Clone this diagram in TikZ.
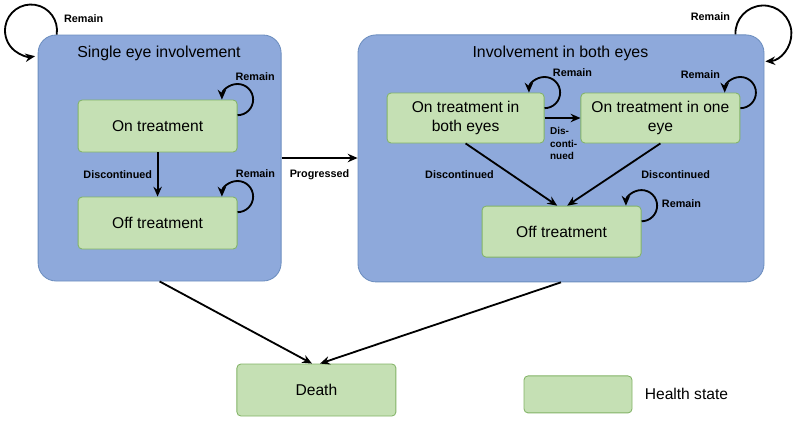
\documentclass[tikz,border=0pt]{standalone}
\usepackage{fontspec}
\setmainfont{Liberation Sans}
\usetikzlibrary{arrows.meta}
\definecolor{groupblue}{RGB}{142,169,219}
\definecolor{groupline}{RGB}{108,142,191}
\definecolor{stategreen}{RGB}{197,224,180}
\definecolor{stateline}{RGB}{130,179,102}

\begin{document}
\begin{tikzpicture}[->, >={Stealth[length=7pt,width=6pt]}, line width=1.3pt,
    group/.style = {draw=groupline, fill=groupblue, line width=0.6pt, rounded corners=0.45cm},
    state/.style = {draw=stateline, fill=stategreen, line width=0.6pt, rounded corners=0.1cm,
        minimum width=3.975cm, minimum height=1.3cm, align=center,
        font=\fontsize{11.1}{13.5}\selectfont},
    title/.style = {font=\fontsize{11.3}{13}\selectfont},
    lbl/.style = {font=\fontsize{7.7}{9}\selectfont\bfseries}]
    \useasboundingbox (0,0) rectangle (19.925,-10.525);

    % Nodes
    \node[group, minimum width=6.075cm, minimum height=6.15cm] (single) at (3.99,-3.95) {};
    \node[group, minimum width=10.15cm, minimum height=6.175cm] (bothc) at (14.025,-3.96) {};
    \node[title] (singlet) at (3.975,-1.325) {Single eye involvement};
    \node[title] (botht) at (14.01,-1.325) {Involvement in both eyes};

    \node[state] (ont) at (3.94,-3.15) {On treatment};
    \node[state] (offs) at (3.94,-5.575) {Off treatment};
    \node[state, minimum width=3.925cm, minimum height=1.25cm] (onb) at (11.64,-2.95) {On treatment in\\both eyes};
    \node[state, minimum height=1.25cm] (ono) at (16.51,-2.95) {On treatment in one\\eye};
    \node[state, minimum height=1.275cm] (offb) at (14.04,-5.79) {Off treatment};
    \node[state] (death) at (7.91,-9.75) {Death};
    \node[state, minimum width=2.7cm, minimum height=0.925cm] (legend) at (14.45,-9.86) {};
    \node[anchor=west, font=\fontsize{11.1}{13}\selectfont] (legtext) at (15.98,-9.86) {Health state};

    % Edges
    \draw (ont) -- node[lbl, midway, left] {Discontinued} (offs);
    \draw (onb) -- node[lbl, pos=0, below right, yshift=-0.1cm, align=left,
        font=\fontsize{7.1}{8.9}\selectfont\bfseries] {Dis-\\conti-\\nued} (ono);
    \draw (onb.south) -- node[lbl, midway, left=0.3cm] {Discontinued} ([xshift=-0.11cm]offb.north);
    \draw (ono.south) -- node[lbl, midway, right=0.55cm] {Discontinued} ([xshift=0.14cm]offb.north);
    \draw (single.east) -- node[lbl, midway, below=0.15cm] {Progressed} (single.east -| bothc.west);
    \draw (single.south) -- ([xshift=-0.11cm]death.north);
    \draw (bothc.south) -- ([xshift=0.09cm]death.north);

    % Remain loops
    \draw ([yshift=-0.39cm]ont.north east) arc[start angle=-90, end angle=180, radius=0.39cm];
    \draw ([yshift=-0.39cm]offs.north east) arc[start angle=-90, end angle=180, radius=0.39cm];
    \draw ([yshift=-0.39cm]onb.north east) arc[start angle=-90, end angle=180, radius=0.39cm];
    \draw ([yshift=-0.39cm]ono.north east) arc[start angle=-90, end angle=180, radius=0.39cm];
    \draw ([yshift=-0.39cm]offb.north east) arc[start angle=-90, end angle=180, radius=0.39cm];
    \draw ([xshift=0.475cm]single.north west) arc[start angle=-9, end angle=279, radius=0.65cm];
    \draw ([xshift=-0.725cm]bothc.north east) arc[start angle=182, end angle=-86, radius=0.7cm];

    \node[lbl] (remont) at ([xshift=0.44cm, yshift=0.575cm]ont.north east) {Remain};
    \node[lbl] (remoffs) at ([xshift=0.45cm, yshift=0.575cm]offs.north east) {Remain};
    \node[lbl] (remonb) at ([xshift=0.7cm, yshift=0.5cm]onb.north east) {Remain};
    \node[lbl] (remono) at ([xshift=-1.0cm, yshift=0.45cm]ono.north east) {Remain};
    \node[lbl] (remoffb) at ([xshift=1.0cm, yshift=0.05cm]offb.north east) {Remain};
    \node[lbl] (remsingle) at ([xshift=1.15cm, yshift=0.4cm]single.north west) {Remain};
    \node[lbl] (remboth) at ([xshift=-1.35cm, yshift=0.45cm]bothc.north east) {Remain};

\end{tikzpicture}
\end{document}
